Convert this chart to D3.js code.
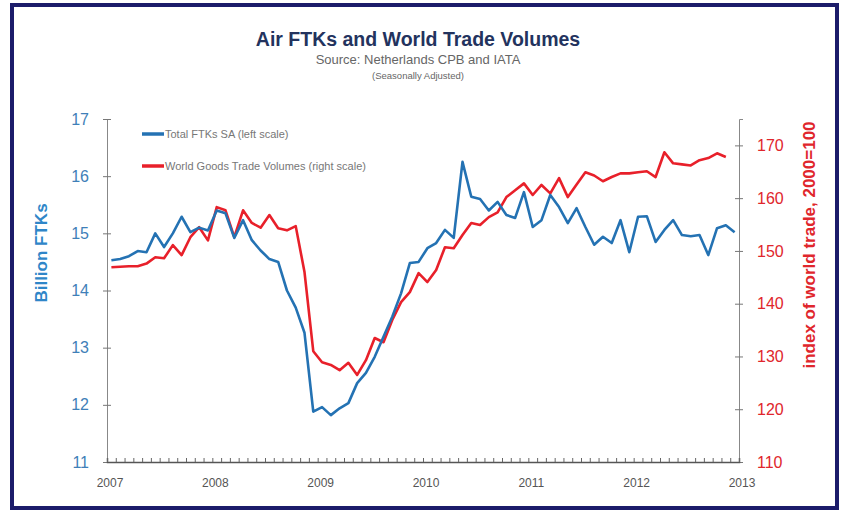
<!DOCTYPE html>
<html lang="en">
<head>
<meta charset="UTF-8">
<title>Air FTKs and World Trade Volumes</title>
<script src="https://d3js.org/d3.v7.min.js"></script>
<style>
  body { margin: 0; background: #fff; }
  svg { display: block; font-family: "Liberation Sans", Arial, sans-serif; }
</style>
</head>
<body>
<svg width="848" height="514"></svg>
<script>
// monthly data, Jan 2007 .. Dec 2012
const yearLabels = ["2007", "2008", "2009", "2010", "2011", "2012", "2013"];

// Total FTKs SA, billion (left scale)
const ftks = [
  14.53, 14.55, 14.6, 14.69, 14.67, 15.0, 14.76, 15.0, 15.29, 15.02, 15.1, 15.05,
  15.4, 15.35, 14.92, 15.23, 14.88, 14.7, 14.55, 14.5, 14.0, 13.7, 13.26, 11.88,
  11.96, 11.82, 11.94, 12.03, 12.38, 12.56, 12.84, 13.19, 13.54, 13.95, 14.48, 14.5,
  14.74, 14.83, 15.06, 14.92, 16.25, 15.64, 15.6, 15.4, 15.55, 15.32, 15.27, 15.72,
  15.11, 15.23, 15.67, 15.46, 15.18, 15.44, 15.11, 14.8, 14.94, 14.83, 15.23, 14.67,
  15.29, 15.3, 14.85, 15.06, 15.23, 14.97, 14.95, 14.97, 14.62, 15.09, 15.14, 15.02
];

// World goods trade volumes, 2000=100 (right scale)
const trade = [
  146.9, 147.0, 147.1, 147.1, 147.6, 148.8, 148.6, 151.1, 149.2, 152.6, 154.5, 152.0,
  158.3, 157.7, 152.6, 157.7, 155.3, 154.4, 156.8, 154.3, 153.9, 154.7, 146.0, 131.0,
  128.9, 128.4, 127.4, 128.8, 126.5, 129.3, 133.5, 132.7, 136.9, 140.3, 142.2, 145.8,
  144.1, 146.4, 150.7, 150.5, 153.0, 155.3, 154.9, 156.4, 157.3, 160.2, 161.5, 162.8,
  160.6, 162.5, 160.9, 163.8, 160.2, 162.6, 164.9, 164.3, 163.2, 164.0, 164.7, 164.7,
  164.9, 165.1, 164.0, 168.7, 166.6, 166.4, 166.2, 167.2, 167.6, 168.5, 167.8
];

const leftTicks = [11, 12, 13, 14, 15, 16, 17];
const rightTicks = [110, 120, 130, 140, 150, 160, 170];

const blue = "#2472b3", red = "#e8202a";
const svg = d3.select("svg");

// frame
svg.append("rect")
  .attr("x", 12).attr("y", 5).attr("width", 825).attr("height", 503)
  .attr("fill", "#fff").attr("stroke", "#1c1c6a").attr("stroke-width", 4);

const plotLeft = 107, plotRight = 739, plotTop = 119, plotBottom = 462;

const x = d3.scaleLinear().domain([0, 72]).range([plotLeft, plotRight]);
const yL = d3.scaleLinear().domain([11, 17]).range([plotBottom, plotTop]);
const yR = d3.scaleLinear().domain([110, 175]).range([plotBottom, plotTop]);

// titles
svg.append("text").attr("x", 418).attr("y", 46).attr("text-anchor", "middle")
  .attr("font-size", 19.5).attr("font-weight", "bold").attr("fill", "#23335e")
  .text("Air FTKs and World Trade Volumes");
svg.append("text").attr("x", 418).attr("y", 64).attr("text-anchor", "middle")
  .attr("font-size", 13).attr("fill", "#666")
  .text("Source: Netherlands CPB and IATA");
svg.append("text").attr("x", 418).attr("y", 79).attr("text-anchor", "middle")
  .attr("font-size", 9.5).attr("fill", "#666")
  .text("(Seasonally Adjusted)");

// left axis
const axL = svg.append("g").attr("transform", `translate(${plotLeft},0)`)
  .call(d3.axisLeft(yL).tickValues(leftTicks).tickSize(4).tickPadding(14).tickFormat(d3.format("d")));
axL.select(".domain").attr("stroke", "#888");
axL.selectAll(".tick line").attr("stroke", "#777").attr("x2", 4).attr("x1", -4);
axL.selectAll("text").attr("font-size", 16).attr("fill", "#3f7fb8").attr("font-family", "Liberation Sans, Arial, sans-serif");

// right axis
const axR = svg.append("g").attr("transform", `translate(${plotRight},0)`)
  .call(d3.axisRight(yR).tickValues(rightTicks).tickSize(4).tickPadding(14));
axR.select(".domain").attr("stroke", "#888");
axR.selectAll(".tick line").attr("stroke", "#777").attr("x1", -4).attr("x2", 4);
axR.selectAll("text").attr("font-size", 16).attr("fill", "#e0262c").attr("font-family", "Liberation Sans, Arial, sans-serif");

// bottom axis: monthly minor ticks, yearly labels
const axB = svg.append("g").attr("transform", `translate(0,${plotBottom})`)
  .call(d3.axisBottom(x).tickValues(d3.range(0, 73)).tickSize(-4).tickFormat(() => ""));
axB.select(".domain").attr("stroke", "#555").attr("stroke-width", 1.5);
axB.selectAll(".tick line").attr("stroke", "#666");
svg.append("g").selectAll("text").data(yearLabels).join("text")
  .attr("x", (d, i) => x(i * 12) + 3)
  .attr("y", plotBottom + 25)
  .attr("text-anchor", "middle")
  .attr("font-size", 12).attr("fill", "#555")
  .text(d => d);

// axis titles
svg.append("text")
  .attr("transform", "translate(47,253) rotate(-90)")
  .attr("text-anchor", "middle").attr("font-size", 17).attr("font-weight", "bold")
  .attr("fill", "#2f86c8").text("Billion FTKs");
svg.append("text")
  .attr("transform", "translate(815,245) rotate(-90)")
  .attr("text-anchor", "middle").attr("font-size", 17).attr("font-weight", "bold")
  .attr("fill", "#e0262c").text("index of world trade, 2000=100");

// lines
const lineL = d3.line().x((d, i) => x(i + 0.5)).y(d => yL(d));
const lineR = d3.line().x((d, i) => x(i + 0.5)).y(d => yR(d));

svg.append("path").datum(trade).attr("d", lineR)
  .attr("fill", "none").attr("stroke", red).attr("stroke-width", 2.6).attr("stroke-linejoin", "round");
svg.append("path").datum(ftks).attr("d", lineL)
  .attr("fill", "none").attr("stroke", blue).attr("stroke-width", 2.6).attr("stroke-linejoin", "round");

// legend
const legend = [
  { label: "Total FTKs SA (left scale)", color: blue, y: 134 },
  { label: "World Goods Trade Volumes (right scale)", color: red, y: 166 }
];
const lg = svg.append("g").selectAll("g").data(legend).join("g");
lg.append("line").attr("x1", 142).attr("x2", 164).attr("y1", d => d.y).attr("y2", d => d.y)
  .attr("stroke", d => d.color).attr("stroke-width", 3.5);
lg.append("text").attr("x", 165).attr("y", d => d.y + 4)
  .attr("font-size", 11).attr("fill", "#777").text(d => d.label);
</script>
</body>
</html>
